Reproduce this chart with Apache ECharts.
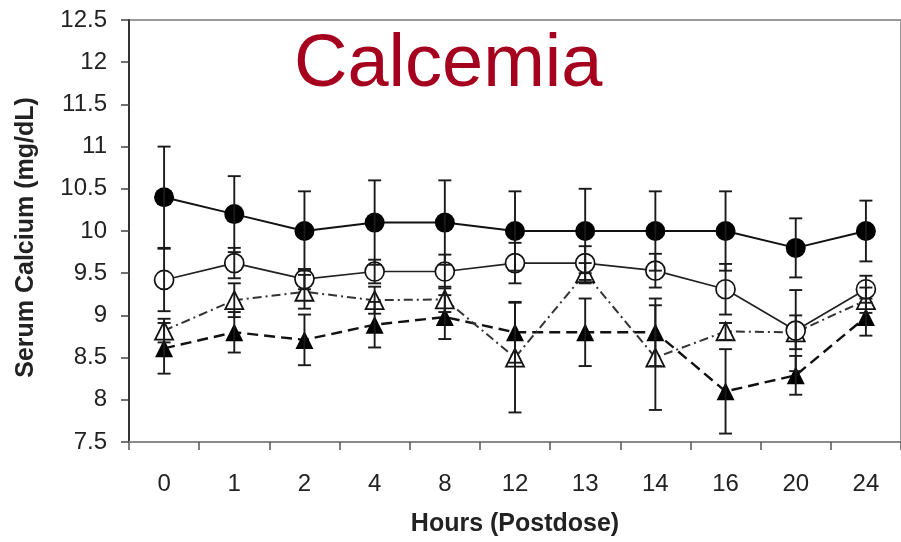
<!DOCTYPE html>
<html>
<head>
<meta charset="utf-8">
<script src="https://cdn.jsdelivr.net/npm/echarts@6/dist/echarts.min.js"></script>
<style>
  html, body { margin: 0; padding: 0; background: #fff; }
  #chart { width: 901px; height: 542px; }
</style>
</head>
<body>
<div id="chart"></div>
<script>
// Hours after dosing (category axis)
const hours = ['0', '1', '2', '4', '8', '12', '13', '14', '16', '20', '24'];

// Group means (mg/dL) and their error-bar half widths
const filledCircle    = [10.4, 10.2, 10.0, 10.1, 10.1, 10.0, 10.0, 10.0, 10.0, 9.8, 10.0];
const filledCircleErr = [0.6, 0.45, 0.47, 0.5, 0.5, 0.47, 0.5, 0.47, 0.47, 0.35, 0.36];

const openCircle    = [9.42, 9.62, 9.43, 9.52, 9.52, 9.62, 9.62, 9.53, 9.31, 8.82, 9.31];
const openCircleErr = [0.37, 0.18, 0.12, 0.14, 0.2, 0.24, 0.2, 0.2, 0.3, 0.48, 0.16];

const openTriangle    = [8.82, 9.18, 9.28, 9.18, 9.19, 8.5, 9.5, 8.5, 8.81, 8.8, 9.18];
const openTriangleErr = [0.14, 0.2, 0.2, 0.16, 0.15, 0.65, 0.12, 0.62, 0.1, 0.2, 0.15];

const filledTriangle    = [8.61, 8.8, 8.71, 8.89, 8.98, 8.8, 8.8, 8.8, 8.1, 8.29, 8.98];
const filledTriangleErr = [0.3, 0.24, 0.3, 0.27, 0.26, 0.36, 0.4, 0.4, 0.5, 0.23, 0.22];

// Y axis range / ticks
const yMin = 7.5, yMax = 12.5, yStep = 0.5;

const FONT = '"Liberation Sans", Arial, Helvetica, sans-serif';

function errData(values, errs) {
  return values.map((v, i) => [i, v, errs[i]]);
}

function renderErrorBar(params, api) {
  const i = api.value(0);
  const v = api.value(1);
  const e = api.value(2);
  const top = api.coord([i, v + e]);
  const bot = api.coord([i, v - e]);
  const hw = 6.5;
  const st = { stroke: '#1a1a1a', lineWidth: 1.9 };
  return {
    type: 'group',
    children: [
      { type: 'line', shape: { x1: top[0], y1: top[1], x2: bot[0], y2: bot[1] }, style: st },
      { type: 'line', shape: { x1: top[0] - hw, y1: top[1], x2: top[0] + hw, y2: top[1] }, style: st },
      { type: 'line', shape: { x1: bot[0] - hw, y1: bot[1], x2: bot[0] + hw, y2: bot[1] }, style: st }
    ]
  };
}

function errSeries(values, errs) {
  return {
    type: 'custom',
    renderItem: renderErrorBar,
    data: errData(values, errs),
    encode: { x: 0, y: 1 },
    z: 5,
    silent: true
  };
}

const chart = echarts.init(document.getElementById('chart'), null, { renderer: 'canvas' });

chart.setOption({
  animation: false,
  backgroundColor: '#ffffff',
  grid: {
    left: 129, right: -5, top: 20, bottom: 100,
    show: true, borderColor: '#9a9a9a', borderWidth: 2, backgroundColor: 'transparent'
  },
  graphic: [{
    type: 'text',
    x: 294, y: 66,
    z: 100,
    style: {
      text: 'Calcemia',
      font: '74px ' + FONT,
      fill: '#A6001F',
      textAlign: 'left',
      textVerticalAlign: 'middle',
      verticalAlign: 'middle'
    }
  }],
  xAxis: {
    type: 'category',
    data: hours,
    boundaryGap: true,
    name: 'Hours (Postdose)',
    nameLocation: 'middle',
    nameGap: 70,
    nameTextStyle: { fontFamily: FONT, fontWeight: 'bold', fontSize: 25, color: '#222' },
    axisLine: { lineStyle: { color: '#8a8a8a', width: 2 } },
    axisTick: { show: true, length: 8, inside: false, lineStyle: { color: '#555', width: 1.5 } },
    axisLabel: { fontFamily: FONT, fontSize: 24, color: '#222', margin: 30 },
    splitLine: { show: false }
  },
  yAxis: {
    type: 'value',
    min: yMin, max: yMax, interval: yStep,
    name: 'Serum Calcium (mg/dL)',
    nameLocation: 'middle',
    nameGap: 90,
    nameRotate: 90,
    nameTextStyle: { fontFamily: FONT, fontWeight: 'bold', fontSize: 25, color: '#222', padding: [0, 13, 0, 0] },
    axisLine: { show: true, lineStyle: { color: '#333', width: 2 } },
    axisTick: { show: true, length: 8, inside: false, lineStyle: { color: '#444', width: 1.5 } },
    axisLabel: { fontFamily: FONT, fontSize: 24, color: '#222', margin: 22 },
    splitLine: { show: false }
  },
  series: [
    {
      type: 'line', data: filledTriangle, z: 3,
      symbol: 'triangle', symbolSize: 18,
      itemStyle: { color: '#000' },
      lineStyle: { color: '#111', width: 2.4, type: [11, 6] }
    },
    {
      type: 'line', data: openTriangle, z: 3,
      symbol: 'triangle', symbolSize: 18,
      itemStyle: { color: '#fff', borderColor: '#111', borderWidth: 1.8 },
      lineStyle: { color: '#333', width: 2, type: [9, 4, 2, 4] }
    },
    {
      type: 'line', data: openCircle, z: 3,
      symbol: 'circle', symbolSize: 19,
      itemStyle: { color: '#fff', borderColor: '#111', borderWidth: 1.7 },
      lineStyle: { color: '#222', width: 1.7, type: 'solid' }
    },
    {
      type: 'line', data: filledCircle, z: 3,
      symbol: 'circle', symbolSize: 20,
      itemStyle: { color: '#000' },
      lineStyle: { color: '#111', width: 1.9, type: 'solid' }
    },
    errSeries(filledCircle, filledCircleErr),
    errSeries(openCircle, openCircleErr),
    errSeries(openTriangle, openTriangleErr),
    errSeries(filledTriangle, filledTriangleErr)
  ]
});
</script>
</body>
</html>
